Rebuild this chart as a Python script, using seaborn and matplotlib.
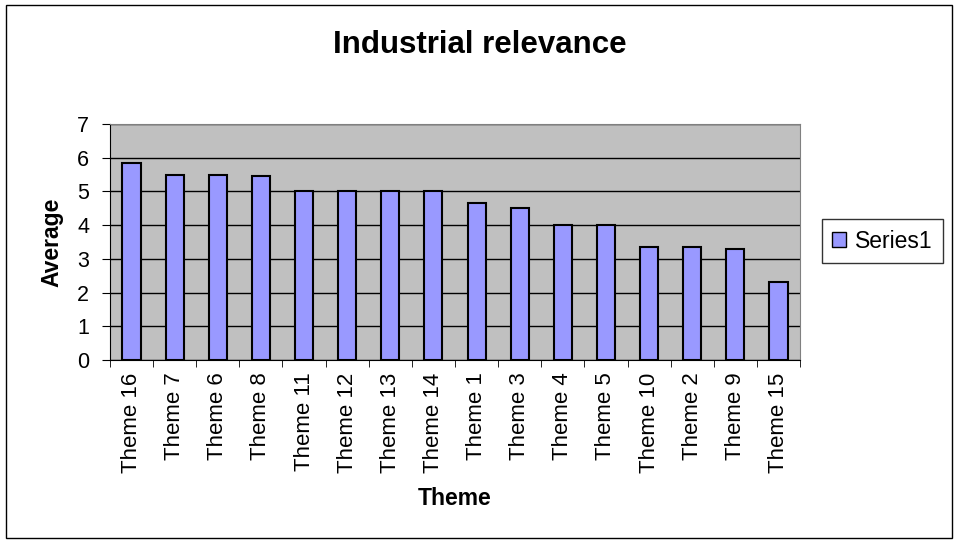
import matplotlib
matplotlib.use("Agg")
import matplotlib.pyplot as plt
import matplotlib.patches as mpatches
import numpy as np
import pandas as pd
import seaborn as sns

themes = ["Theme 16", "Theme 7", "Theme 6", "Theme 8", "Theme 11", "Theme 12",
          "Theme 13", "Theme 14", "Theme 1", "Theme 3", "Theme 4", "Theme 5",
          "Theme 10", "Theme 2", "Theme 9", "Theme 15"]
averages = [5.83, 5.5, 5.5, 5.45, 5.0, 5.0, 5.0, 5.0, 4.67, 4.5, 4.0, 4.0,
            3.36, 3.36, 3.3, 2.3]
y_ticks = [0, 1, 2, 3, 4, 5, 6, 7]

sns.set_style("white")
plt.rcParams['font.family'] = ['Liberation Sans', 'DejaVu Sans']
plt.rcParams.update({'text.color': 'black', 'axes.labelcolor': 'black',
                     'xtick.color': 'black', 'ytick.color': 'black'})

df = pd.DataFrame({'Theme': themes, 'Average': averages})

fig = plt.figure(figsize=(9.58, 5.43), dpi=100)
ax = fig.add_axes([0.1148, 0.337, 0.7203, 0.4346])
ax.set_facecolor('#C0C0C0')

sns.barplot(data=df, x='Theme', y='Average', color='#9999FF', saturation=1,
            width=0.42, edgecolor='black', linewidth=1.5, ax=ax, zorder=3)

ax.set_ylim(0, 7)
ax.set_xlim(-0.5, len(themes) - 0.5)
ax.set_yticks(y_ticks)
ax.yaxis.grid(True, color='black', linewidth=1, zorder=0)
ax.set_axisbelow(True)
for s in ['top', 'right']:
    ax.spines[s].set_color('#808080')
for s in ['left', 'bottom']:
    ax.spines[s].set_color('black')

ax.tick_params(axis='y', labelsize=15.5, length=6, direction='out', left=True, pad=9)
ax.set_xticks(np.arange(len(themes)))
ax.set_xticklabels(themes, rotation=90, fontsize=16)
ax.set_xticks(np.arange(len(themes) + 1) - 0.5, minor=True)
ax.tick_params(axis='x', which='major', length=0, pad=9)
ax.tick_params(axis='x', which='minor', length=5, direction='out', bottom=True)

ax.set_xlabel('Theme', fontsize=16.5, fontweight='bold', labelpad=10)
ax.set_ylabel('Average', fontsize=16.5, fontweight='bold', labelpad=10)
fig.text(0.501, 0.917, 'Industrial relevance', ha='center', va='center',
         fontsize=22.5, fontweight='bold')

handle = mpatches.Patch(facecolor='#9999FF', edgecolor='black', label='Series1')
fig.legend(handles=[handle], loc='center left', bbox_to_anchor=(0.858, 0.556),
           fontsize=16.5, frameon=True, fancybox=False, edgecolor='black',
           handlelength=0.6, handleheight=0.6, handletextpad=0.4, borderpad=0.45,
           borderaxespad=0)

border = mpatches.Rectangle((0.006, 0.01), 0.988, 0.98, transform=fig.transFigure,
                            fill=False, edgecolor='black', linewidth=1)
fig.patches.append(border)

fig.savefig('out.png', dpi=100)
